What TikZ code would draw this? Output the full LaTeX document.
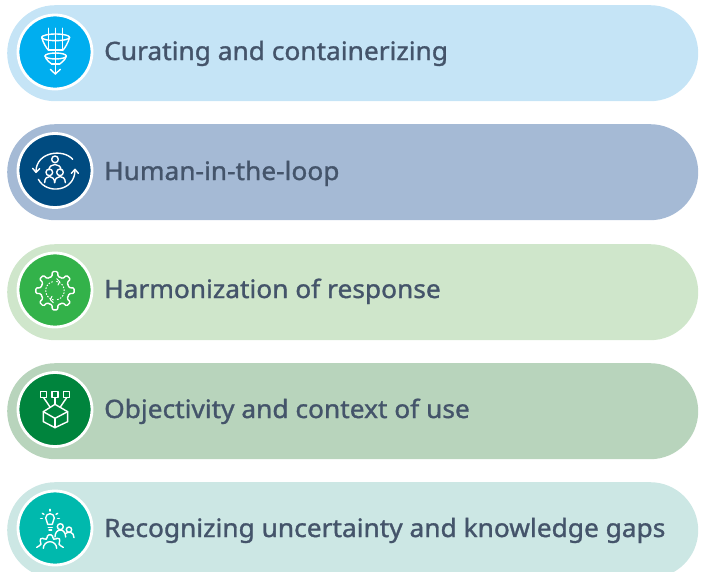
\documentclass[tikz,border=0pt]{standalone}
\usepackage{fontspec}
\setmainfont[FakeBold=1.2,FakeStretch=1.04]{Noto Sans}
\definecolor{txt}{HTML}{44546A}
\definecolor{pa}{HTML}{C5E4F6}\definecolor{ca}{HTML}{00AEEF}
\definecolor{pb}{HTML}{A5BAD5}\definecolor{cb}{HTML}{004B80}
\definecolor{pc}{HTML}{CFE6CB}\definecolor{cc}{HTML}{33B24A}
\definecolor{pd}{HTML}{B8D4BC}\definecolor{cd}{HTML}{00843D}
\definecolor{pe}{HTML}{CCE7E4}\definecolor{ce}{HTML}{00B9AD}
\tikzset{
 x=1pt,y=-1pt,
 pill/.style={minimum width=691pt,minimum height=96pt,rounded corners=48pt,inner sep=0pt,anchor=north west},
 disc/.style={circle,draw=white,line width=2.8pt,minimum size=74pt,inner sep=0pt},
 label/.style={text=txt,anchor=base west,inner sep=0pt,font=\fontsize{25.3}{30}\selectfont},
 ico/.style={x=0.3333pt,y=-0.3333pt,line width=1.4pt,line cap=round,line join=round,every path/.append style={draw=white}}
}
\begin{document}
\begin{tikzpicture}
\useasboundingbox (0,0) rectangle (701,571);
\clip (0,0) rectangle (701,571);
\node[pill,fill=pa] (p1) at (7,5) {};
\node[pill,fill=pb] (p2) at (7,124) {};
\node[pill,fill=pc] (p3) at (7,244) {};
\node[pill,fill=pd] (p4) at (7,363) {};
\node[pill,fill=pe] (p5) at (7,482) {};
\node[disc,fill=ca] (c1) at (55,52) {};
\node[disc,fill=cb] (c2) at (55,170.5) {};
\node[disc,fill=cc] (c3) at (55,290) {};
\node[disc,fill=cd] (c4) at (55,409.5) {};
\node[disc,fill=ce] (c5) at (55,528) {};
\node[label] (t1) at (104,60) {Curating and containerizing};
\node[label] (t2) at (104,180) {Human-in-the-loop};
\node[label] (t3) at (104,298) {Harmonization of response};
\node[label] (t4) at (104,418) {Objectivity and context of use};
\node[label] (t5) at (104,537) {Recognizing uncertainty and knowledge gaps};
% icon 1: funnels
\begin{scope}[ico]
\draw (167,112) ellipse [x radius=42,y radius=10];
\draw (125,112) .. controls (130,130) and (140,145) .. (145,150);
\draw (209,112) .. controls (204,130) and (194,145) .. (189,150);
\foreach \xx in {145,166,188} \draw (\xx,85) -- (\xx,150);
\draw (167,168) ellipse [x radius=32,y radius=9];
\draw (135,168) .. controls (138,180) and (150,188) .. (155,192);
\draw (199,168) .. controls (196,180) and (184,188) .. (179,192);
\draw (155,192) -- (179,192);
\draw (145,150) -- (189,150);
\draw (166,150) -- (166,222);
\draw (151,208) -- (166,222) -- (181,208);
\end{scope}
% icon 2: people in a cycle
\begin{scope}[yshift=-120pt]
\begin{scope}[ico]
\draw (165,118) circle (10);
\draw (147,150) .. controls (147,128) and (183,128) .. (183,150);
\draw (148,157) circle (10);
\draw (180,157) circle (10);
\draw (134,188) .. controls (134,162) and (164,165) .. (164,188);
\draw (164,188) .. controls (164,165) and (196,162) .. (196,188);
\draw (218,118) .. controls (190,85) and (108,95) .. (108,155);
\draw (98,145) -- (108,157) -- (119,146);
\draw (115,178) .. controls (140,225) and (225,215) .. (225,150);
\draw (214,160) -- (225,148) -- (235,160);
\end{scope}
\end{scope}
% icon 3: gear
\begin{scope}[yshift=-240pt]
\begin{scope}[ico]
\begin{scope}[shift={(165,152)}]
\foreach \a in {0,45,...,315}
 \draw[rounded corners=1.2pt] (\a-22.5:43) -- (\a-12:43) -- (\a-8:58) -- (\a+8:58) -- (\a+12:43) -- (\a+22.5:43);
\draw[dotted,line width=1pt] (100:28) arc (100:260:28);
\draw[dotted,line width=1pt] (280:28) arc (-80:80:28);
\draw[line width=1pt] (5,-36) -- (14,-27) -- (9,-17);
\draw[line width=1pt] (-5,36) -- (-14,27) -- (-9,17);
\end{scope}
\end{scope}
\end{scope}
% icon 4: cube with three boxes
\begin{scope}[yshift=-360pt]
\begin{scope}[ico]
\foreach \xx in {131,165,200} \draw (\xx-9,95) rectangle (\xx+9,113);
\draw (131,113) -- (150,141);
\draw (165,113) -- (165,133);
\draw (200,113) -- (181,141);
\draw (165,133) -- (203,155) -- (203,185) -- (165,203) -- (130,185) -- (130,155) -- cycle;
\draw (130,155) -- (165,175) -- (203,155);
\draw (165,175) -- (165,203);
\end{scope}
\end{scope}
% icon 5: bulb, people, gear
\begin{scope}[yshift=-471pt]
\begin{scope}[ico]
\draw (143,160) .. controls (143,150) and (137,148) .. (137,141) arc (180:360:13) .. controls (163,148) and (157,150) .. (157,160) -- cycle;
\draw (145,170) -- (157,170);
\draw (147,177) -- (155,177);
\draw (150,115) -- (150,120);
\draw (127,127) -- (132,130);
\draw (173,127) -- (168,130);
\draw (122,143) -- (127,143);
\draw (173,143) -- (178,143);
\draw (181,167) circle (9);
\draw (165,198) .. controls (165,170) and (197,170) .. (197,198);
\draw (207,176) circle (8);
\draw (196,188) .. controls (205,180) and (222,182) .. (222,200);
\begin{scope}[shift={(150,232)}]
\draw[rounded corners=1.2pt] (-176:40) -- (-160:30) -- (-152:30) -- (-140:40) -- (-128:40) -- (-118:30) -- (-108:30) -- (-100:41) -- (-80:41) -- (-72:30) -- (-62:30) -- (-52:40) -- (-40:40) -- (-28:30) -- (-20:30) -- (-4:40);
\draw (-20,0) arc (180:360:20);
\end{scope}
\end{scope}
\end{scope}
\end{tikzpicture}
\end{document}
